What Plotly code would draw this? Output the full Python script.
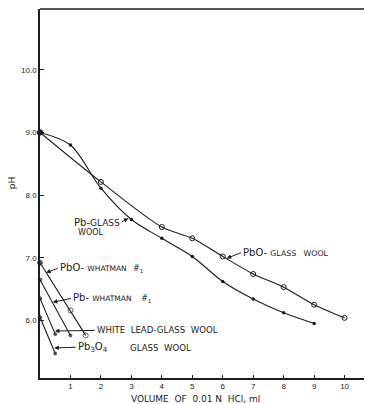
import plotly.graph_objects as go

# ---- data ----
x_pb_glass = [0, 1, 2, 3, 4, 5, 6, 7, 8, 9]
ph_pb_glass = [9.0, 8.80, 8.11, 7.61, 7.31, 7.02, 6.62, 6.34, 6.12, 5.95]

x_pbo_glass = [0, 2, 4, 5, 6, 7, 8, 9, 10]
ph_pbo_glass = [9.0, 8.21, 7.49, 7.31, 7.02, 6.74, 6.53, 6.25, 6.04]

x_pbo_whatman = [0, 1, 1.5]
ph_pbo_whatman = [6.92, 6.16, 5.76]

x_pb_whatman = [0, 1]
ph_pb_whatman = [6.65, 5.76]

x_white_lead = [0, 0.5]
ph_white_lead = [6.35, 5.78]

x_pb3o4 = [0, 0.5]
ph_pb3o4 = [6.05, 5.47]

x_ticks = [1, 2, 3, 4, 5, 6, 7, 8, 9, 10]
x_tick_text = ["1", "2", "3", "4", "5", "6", "7", "8", "9", "10"]
y_ticks = [6, 7, 8, 9, 10]
y_tick_text = ["6.0", "7.0", "8.0", "9.0", "10.0"]

INK = "#1c1c1c"
FONT = "DejaVu Sans"

fig = go.Figure()

fig.add_trace(go.Scatter(
    x=x_pb_glass, y=ph_pb_glass, mode="lines+markers",
    line=dict(color=INK, width=1.1, shape="spline", smoothing=0.9),
    marker=dict(symbol="circle", size=3.5, color=INK),
    showlegend=False, hoverinfo="skip"))

fig.add_trace(go.Scatter(
    x=x_pbo_glass, y=ph_pbo_glass, mode="lines+markers",
    line=dict(color=INK, width=1.1, shape="spline", smoothing=0.8),
    marker=dict(symbol="circle-open", size=5, color=INK, line=dict(width=1)),
    showlegend=False, hoverinfo="skip"))

for xs, ys, sym, sz in [
    (x_pbo_whatman, ph_pbo_whatman, ["circle", "circle-open", "circle-open"], [5, 5, 5]),
    (x_pb_whatman, ph_pb_whatman, ["circle", "circle"], [3.5, 3]),
    (x_white_lead, ph_white_lead, ["circle", "circle"], [3.5, 3]),
    (x_pb3o4, ph_pb3o4, ["circle", "circle"], [3.5, 3]),
]:
    fig.add_trace(go.Scatter(
        x=xs, y=ys, mode="lines+markers",
        line=dict(color=INK, width=1.1),
        marker=dict(symbol=sym, size=sz, color=INK, line=dict(width=1, color=INK)),
        showlegend=False, hoverinfo="skip", cliponaxis=False))

# big dot at the common starting point
fig.add_trace(go.Scatter(x=[x_pb_glass[0]], y=[ph_pb_glass[0]], mode="markers",
                         marker=dict(size=6, color=INK), showlegend=False, hoverinfo="skip",
                         cliponaxis=False))


def sc(s, size=7.5):
    return "<span style='font-size:%spx'>%s</span>" % (size, s)


NB = "\u00a0"

# labels with arrows: (text, tail_x, tail_y, head_x, head_y, xanchor)
arrow_labels = [
    ("Pb-" + sc("GLASS", 9), 2.68, 7.57, 2.90, 7.63, "right"),
    ("PbO-" + NB + sc("GLASS" + NB * 3 + "WOOL", 7.8), 6.60, 7.08, 6.13, 6.99, "left"),
    ("PbO-" + NB + sc("WHATMAN") + NB + NB + "<span style='font-size:8px'>#<sub>1</sub></span>",
     0.58, 6.83, 0.20, 6.76, "left"),
    ("Pb-" + NB + sc("WHATMAN") + NB + NB + NB + "<span style='font-size:8px'>#<sub>1</sub></span>",
     1.02, 6.35, 0.42, 6.29, "left"),
    (sc("WHITE" + NB + NB + "LEAD-GLASS" + NB + NB + "WOOL", 8.6), 1.80, 5.84, 0.49, 5.83, "left"),
    ("Pb<sub>3</sub>O<sub>4</sub>", 1.17, 5.57, 0.47, 5.56, "left"),
]
for t, ax, ay, x, y, xa in arrow_labels:
    fig.add_annotation(x=x, y=y, ax=ax, ay=ay, axref="x", ayref="y", text=t,
                       showarrow=True, arrowhead=2, arrowsize=0.9, arrowwidth=1,
                       arrowcolor=INK, standoff=0, xanchor=xa, yanchor="middle",
                       font=dict(family=FONT, size=10, color=INK))

# labels without arrows
plain_labels = [
    (sc("WOOL", 8), 1.67, 7.41, "center"),
    (sc("GLASS" + NB + NB + "WOOL", 8.6), 2.89, 5.56, "left"),
]
for t, x, y, xa in plain_labels:
    fig.add_annotation(x=x, y=y, text=t, showarrow=False, xanchor=xa, yanchor="middle",
                       font=dict(family=FONT, size=10, color=INK))

# axis titles
fig.add_annotation(x=5.12, y=-0.056, xref="x", yref="paper",
                   text="VOLUME" + NB + " OF" + NB + " 0.01 N" + NB + " HCl, ml",
                   showarrow=False, xanchor="center", yanchor="middle",
                   font=dict(family=FONT, size=9, color=INK))
fig.add_annotation(x=-0.084, y=8.19, xref="paper", yref="y", text="pH", textangle=-90,
                   showarrow=False, xanchor="center", yanchor="middle",
                   font=dict(family=FONT, size=9, color=INK))

# top frame line (right edge lies outside the picture)
fig.add_shape(type="line", xref="paper", yref="paper", x0=0, x1=1, y0=1, y1=1,
              line=dict(color=INK, width=1.6))

fig.update_xaxes(range=[0, 10.9], showgrid=False, zeroline=False,
                 showline=True, linecolor=INK, linewidth=1.6,
                 ticks="inside", ticklen=3, tickcolor=INK, tickwidth=1,
                 tickvals=x_ticks, ticktext=x_tick_text, ticklabelstandoff=0,
                 tickfont=dict(family="Liberation Sans", size=8, color=INK))
fig.update_yaxes(range=[5.08, 10.97], showgrid=False, zeroline=False,
                 showline=True, linecolor=INK, linewidth=1.6,
                 ticks="inside", ticklen=4, tickcolor=INK, tickwidth=1,
                 tickvals=y_ticks, ticktext=y_tick_text,
                 tickfont=dict(family="Liberation Sans", size=8, color=INK))

# the page adds an 8px body margin, so the figure is sized to fill the rest of the window
fig.update_layout(width=364, height=396,
                  margin=dict(l=32, r=0, t=1, b=26),
                  paper_bgcolor="white", plot_bgcolor="white")

fig.write_html("out.html")
